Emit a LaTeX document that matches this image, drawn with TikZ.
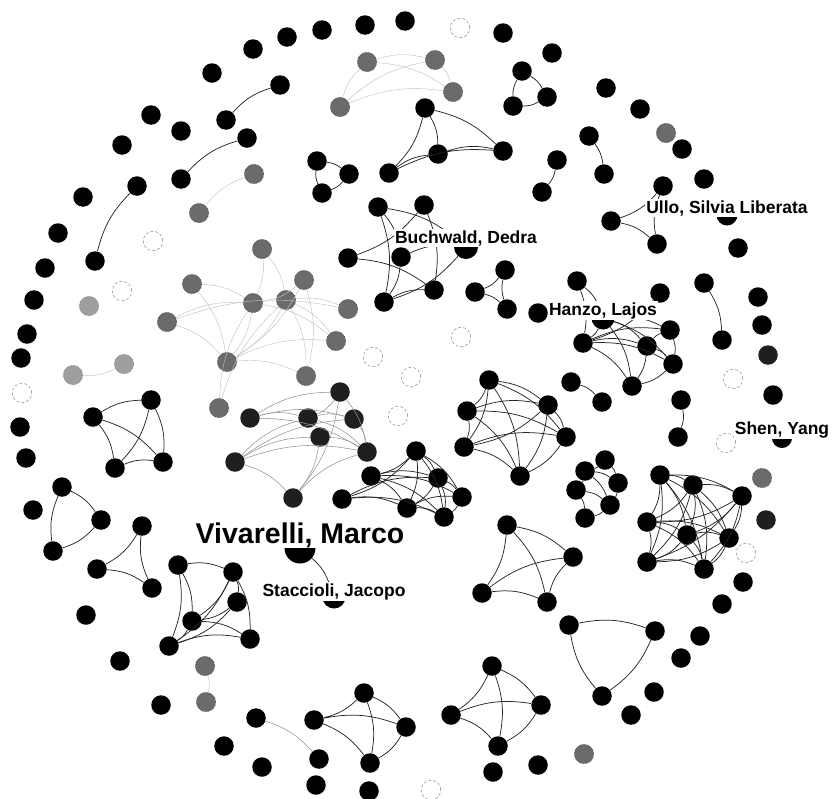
\documentclass[tikz,border=0pt]{standalone}
\usepackage{fontspec}
\setmainfont{Liberation Sans}
\tikzset{
  author/.style={circle, fill=black, minimum size=19.5pt, inner sep=0pt},
  dim/.style={author, fill=black!88},
  muted/.style={author, fill=black!58, draw=black!75, densely dotted, line width=0.5pt},
  pale/.style={author, fill=black!38, draw=black!55, densely dotted, line width=0.5pt},
  lost/.style={author, fill=white, draw=black!45, densely dashed, line width=0.5pt},
  tie/.style={draw=black!85, line width=0.75pt},
  mid/.style={draw=black!42, line width=0.55pt},
  faint/.style={draw=black!24, line width=0.45pt},
  namelab/.style={font=\bfseries\fontsize{17.5}{20}\selectfont, fill=white, inner sep=1pt, anchor=base}
}

\begin{document}
\begin{tikzpicture}[x=1pt, y=-1pt]
\useasboundingbox (0,0) rectangle (832,798);

\foreach \n/\x/\y in {o1/58/233, o2/45/268, o3/34/300, o4/27/334, o5/21/358, o7/20/427, o8/26/458, o9/33/510,
  o10/86/615, o11/120/661, o12/161/705, o13/224/746, o14/262/767, o15/316/785, o16/369/791, o19/631/715,
  o20/654/692, o21/681/658, o22/700/636, o23/722/604, o24/743/582, o28/773/395, o30/762/325, o31/758/297,
  o32/738/248, o33/704/179, o34/682/149, o36/640/109, o37/606/88, o38/552/53, o39/503/33, o41/405/21,
  o42/365/25, o43/322/30, o44/287/37, o45/253/49, o46/212/73, o47/151/115, o48/122/145, o49/83/197,
  i1/181/131, i2/538/313, i3/493/772, i4/538/765,
  pa1/226/120, pb1/280/85, pa2/181/179, pb2/247/138, pa3/95/261, pb3/137/186, pa5/557/160, pb5/542/192,
  pa6/589/136, pb6/604/174, pa7/704/283, pb7/722/340, pa8/571/382, pb8/602/402, pa9/681/400, pb9/678/437,
  pa12/256/718, pb12/319/759,
  ta1/522/71, tb1/547/97, tc1/513/106, ta2/317/161, tb2/349/174, tc2/322/193, ta3/505/270, tb3/475/292,
  tc3/507/309, ta4/663/186, tb4/611/221, tc4/657/244, ta5/62/487, tb5/101/520, tc5/53/551, ta6/142/526,
  tb6/97/569, tc6/152/588, ta7/569/625, tb7/655/631, tc7/602/696,
  qa1/425/108, qb1/389/173, qc1/438/154, qd1/503/151, qa2/93/417, qb2/151/400, qc2/115/468, qd2/163/462,
  qa3/507/525, qb3/482/593, qc3/547/602, qd3/573/557, qa4/364/693, qb4/314/720, qc4/406/727, qd4/370/763,
  qa5/492/666, qb5/451/715, qc5/541/705, qd5/498/746,
  b1/378/207, b2/424/205, b3/348/258, b4/401/257, b5/434/290, b6/384/302,
  e1/489/380, e2/467/411, e3/548/405, e4/464/447, e5/566/437, e6/520/476,
  f1/416/451, f2/371/476, f3/438/478, f4/462/497, f5/342/499, f6/407/508, f7/444/517,
  z1/577/281, z2/660/293, z3/583/343, z4/647/346, z5/670/330, z6/673/364, z7/632/386,
  w1/605/460, w2/585/471, w3/618/483, w4/576/490, w5/610/505, w6/585/518,
  r1/660/475, r2/693/485, r3/742/496, r4/647/522, r5/687/535, r6/729/538, r7/647/562, r8/704/569,
  s1/178/565, s2/233/572, s3/237/602, s4/192/621, s5/250/639, s6/169/646}
  \node[author] (\n) at (\x,\y) {};

\foreach \n/\x/\y in {o26/766/520, o29/768/355, k1/340/392, k2/250/418, k3/308/418, k4/354/419,
  k5/320/437, k6/367/452, k7/235/462, k8/293/498}
  \node[dim] (\n) at (\x,\y) {};

\foreach \n/\x/\y in {o18/584/754, o27/762/478, o35/666/133, pa4/199/213, pb4/254/174, pa11/205/666,
  pb11/206/702, g1/367/62, g2/435/60, g3/453/92, g4/340/107, h1/262/249, h2/192/284, h3/304/280,
  h4/253/303, h5/286/300, h6/348/309, h7/167/322, h8/336/341, h9/227/362, h10/306/376, h11/219/408}
  \node[muted] (\n) at (\x,\y) {};

\foreach \n/\x/\y in {pa10/124/364, pb10/73/375, v1/89/306}
  \node[pale] (\n) at (\x,\y) {};

\foreach \n/\x/\y in {o6/22/393, o17/431/790, o25/746/553, o40/460/28, l1/733/379, l2/726/443,
  l3/461/337, l4/373/357, l5/411/377, l6/398/416, l7/122/291, l8/153/241}
  \node[lost] (\n) at (\x,\y) {};

\node[author, minimum size=24pt] (buchwald) at (466,247) {};
\node[author, minimum size=23pt] (hanzo) at (603,318) {};
\node[author, minimum size=21pt] (ullo) at (727,215) {};
\node[author, minimum size=20pt] (shen) at (782,438) {};
\node[author, minimum size=23pt] (staccioli) at (334,597) {};
\node[author, minimum size=31pt] (vivarelli) at (300,548) {};

% ties
\foreach \i in {1,2,3,5,6,7,8,9}
  \draw[tie] (pa\i) to[bend left=15] (pb\i);
\foreach \i in {1,...,7}
  \draw[tie] (ta\i) to[bend left=15] (tb\i) (tb\i) to[bend left=15] (tc\i) (tc\i) to[bend left=15] (ta\i);
\foreach \i in {1,...,5}
  \draw[tie] (qa\i) to[bend left=15] (qb\i) (qa\i) to[bend left=15] (qc\i) (qa\i) to[bend left=15] (qd\i)
    (qb\i) to[bend left=15] (qc\i) (qb\i) to[bend left=15] (qd\i) (qc\i) to[bend left=15] (qd\i);
\foreach \i in {1,...,5} {
  \pgfmathtruncatemacro\k{\i+1}
  \foreach \j in {\k,...,6}
    \draw[tie] (e\i) to[bend left=15] (e\j);
}
\foreach \i in {1,...,7} {
  \pgfmathtruncatemacro\k{\i+1}
  \foreach \j in {\k,...,8}
    \draw[tie] (r\i) to[bend left=15] (r\j);
}
\foreach \a/\b in {b1/b6, b1/b4, b1/buchwald, b2/b5, b2/b3, b4/buchwald, b4/b6, b3/b5, b6/b5, buchwald/b6,
  f1/f2, f1/f3, f1/f4, f1/f6, f1/f7, f1/f5, f2/f3, f2/f4, f2/f6, f2/f7, f3/f4, f3/f6, f3/f7, f4/f7,
  f5/f6, f5/f3, f5/f7, f6/f7, f6/f4,
  z1/hanzo, z1/z3, z2/z3, hanzo/z3, hanzo/z4, hanzo/z5, hanzo/z6, z3/z4, z3/z5, z3/z6, z3/z7,
  z4/z5, z4/z6, z4/z7, z5/z6, z6/z7, hanzo/z7,
  w1/w2, w1/w3, w2/w4, w2/w3, w3/w5, w4/w6, w5/w6, w4/w5, w2/w5,
  s1/s2, s1/s6, s1/s4, s2/s3, s2/s5, s2/s4, s2/s6, s3/s4, s3/s6, s4/s5, s4/s6, s6/s5,
  vivarelli/staccioli}
  \draw[tie] (\a) to[bend left=15] (\b);

\foreach \a/\b in {k2/k1, k2/k3, k2/k4, k2/k6, k7/k3, k7/k5, k7/k6, k7/k4, k1/k3, k1/k8, k1/k6,
  k3/k4, k3/k6, k5/k8, k5/k6, k4/k6, k8/k6, k7/k8, pa12/pb12}
  \draw[mid] (\a) to[bend left=15] (\b);

\foreach \a/\b in {g1/g2, g1/g3, g2/g3, g4/g1, g4/g2, g4/g3,
  h1/h4, h1/h5, h2/h4, h2/h9, h3/h4, h3/h9, h5/h6, h7/h4, h7/h9, h7/h6, h4/h9, h5/h9, h5/h10,
  h9/h8, h9/h10, h11/h5, h11/h4, h4/h8, h5/h8, h3/h10, pa4/pb4, pa10/pb10, pa11/pb11}
  \draw[faint] (\a) to[bend left=15] (\b);

% names
\node[namelab] (buchwaldlab) at ([yshift=4pt]buchwald.center) {Buchwald, Dedra};
\node[namelab] (hanzolab) at ([yshift=3pt]hanzo.center) {Hanzo, Lajos};
\node[namelab] (ullolab) at ([yshift=2pt]ullo.center) {Ullo, Silvia Liberata};
\node[namelab] (shenlab) at ([yshift=4pt]shen.center) {Shen, Yang};
\node[namelab] (staccionilab) at ([yshift=1pt]staccioli.center) {Staccioli, Jacopo};
\node[namelab, font=\bfseries\fontsize{28.5}{32}\selectfont] (vivarellilab) at ([yshift=5pt]vivarelli.center) {Vivarelli, Marco};
\end{tikzpicture}
\end{document}
